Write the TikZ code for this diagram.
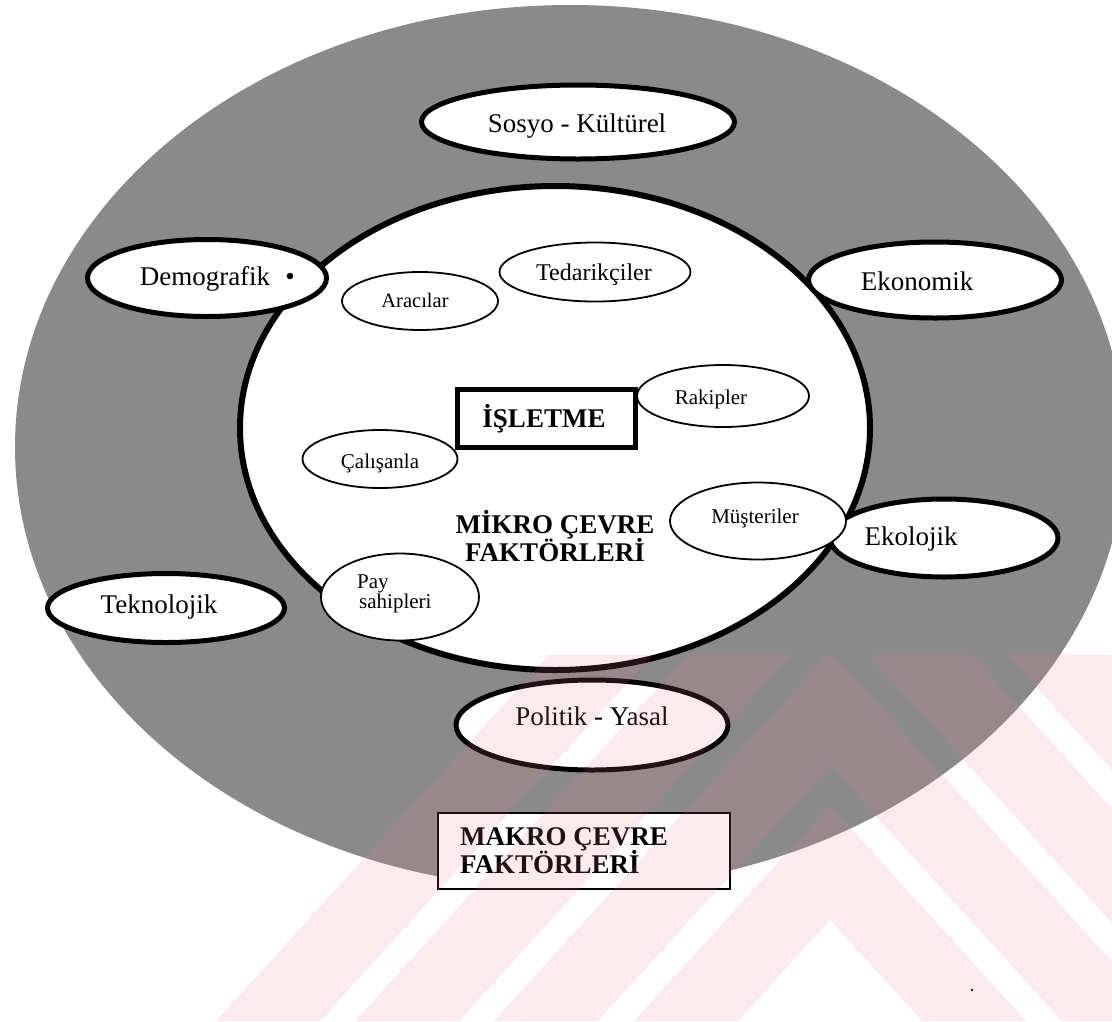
\documentclass[tikz,border=0pt]{standalone}
\usepackage{fontspec}
\setmainfont{Liberation Serif}
\usetikzlibrary{shapes.geometric}
\definecolor{ringgray}{RGB}{138,138,138}
\definecolor{wmpink}{RGB}{232,125,145}

\begin{document}
\begin{tikzpicture}[x=1pt,y=-1pt,
  bigoval/.style={ellipse, draw=black, line width=5pt, fill=white, inner sep=0pt},
  smalloval/.style={ellipse, draw=black, line width=1.8pt, fill=white, inner sep=0pt},
  biglabel/.style={anchor=base, inner sep=0pt, font=\fontsize{27}{32}\selectfont},
  smalllabel/.style={anchor=base, inner sep=0pt, font=\fontsize{21}{25}\selectfont},
  boldlabel/.style={anchor=base, inner sep=0pt, font=\fontsize{27}{32}\selectfont\bfseries},
  leftlabel/.style={anchor=base west, inner sep=0pt},
]
\useasboundingbox (0,0) rectangle (1112,1021);
\fill[white] (0,0) rectangle (1112,1021);

% macro environment ring
\node[ellipse, fill=ringgray, inner sep=0pt, minimum width=1110pt, minimum height=884pt] (macro) at (570,447) {};

% micro environment
\node[ellipse, draw=black, line width=6pt, fill=white, inner sep=0pt,
      minimum width=630pt, minimum height=484pt] (micro) at (555,428) {};

% macro factors
\node[bigoval, minimum width=313pt, minimum height=74pt] (sosyo) at (578,122) {};
\node[bigoval, minimum width=239pt, minimum height=77pt] (demo) at (207,278) {};
\node[bigoval, minimum width=253pt, minimum height=76pt] (ekon) at (935,280) {};
\node[bigoval, minimum width=228pt, minimum height=78pt] (ekol) at (944,538) {};
\node[bigoval, minimum width=237pt, minimum height=69pt] (tekn) at (166,608) {};
\node[bigoval, minimum width=272pt, minimum height=90pt] (polit) at (592,725) {};

\node[biglabel] (sosyoT) at (577,132) {Sosyo - Kültürel};
\node[biglabel] (demoT) at (205,285) {Demografik};
\node[biglabel] (demoDot) at (290,285) {•};
\node[biglabel] (ekonT) at (917,290) {Ekonomik};
\node[biglabel] (ekolT) at (911,545) {Ekolojik};
\node[biglabel] (teknT) at (159,613) {Teknolojik};
\node[biglabel] (politT) at (592,725) {Politik - Yasal};

% micro factors
\node[smalloval, minimum width=156pt, minimum height=58pt] (aracilar) at (420,301) {};
\node[smalloval, minimum width=191pt, minimum height=59pt] (tedarik) at (595,272) {};
\node[smalloval, minimum width=172pt, minimum height=62pt] (rakip) at (723,396) {};
\node[smalloval, minimum width=155pt, minimum height=58pt] (calisan) at (380,459) {};
\node[smalloval, minimum width=176pt, minimum height=77pt] (musteri) at (758,521) {};
\node[smalloval, minimum width=158pt, minimum height=87pt] (pay) at (400,597) {};

\node[smalllabel, font=\fontsize{20.5}{24}\selectfont] (aracilarT) at (415,307) {Aracılar};
\node[smalllabel, font=\fontsize{24}{28}\selectfont] (tedarikT) at (594,280) {Tedarikçiler};
\node[smalllabel] (rakipT) at (711,404) {Rakipler};
\node[smalllabel] (calisanT) at (380,468) {Çalışanla};
\node[smalllabel] (musteriT) at (755,523) {Müşteriler};
\node[smalllabel, leftlabel] (payT) at (357,588) {Pay};
\node[smalllabel, leftlabel] (sahipT) at (359,608) {sahipleri};

% the firm
\node[draw=black, line width=5pt, fill=white, inner sep=0pt,
      minimum width=178pt, minimum height=58pt] (isletme) at (546,418) {};
\node[boldlabel] (isletmeT) at (544,427) {İŞLETME};

\node[boldlabel] (mikroA) at (555,533) {MİKRO ÇEVRE};
\node[boldlabel] (mikroB) at (555,561) {FAKTÖRLERİ};

% macro caption box
\node[draw=black, line width=2.2pt, fill=white, inner sep=0pt,
      minimum width=292pt, minimum height=76pt] (makro) at (584,851) {};
\node[boldlabel, leftlabel] (makroA) at (460,845) {MAKRO ÇEVRE};
\node[boldlabel, leftlabel] (makroB) at (460,873) {FAKTÖRLERİ};

\fill[black] (972,990) circle (1.3);

% faint striped mark over the lower part: nested chevrons about x = 830
\begin{scope}[transparency group, opacity=0.15]
  \clip (0,655) rectangle (1112,1021);
  \foreach \a/\b in {216/320, 355/459, 494/598, 634/738}
    \fill[wmpink] (\a,1021) -- (830,{1021-(830-\a)*1.1}) -- ({1660-\a},1021)
      -- ({1660-\b},1021) -- (830,{1021-(830-\b)*1.1}) -- (\b,1021) -- cycle;
\end{scope}
\end{tikzpicture}
\end{document}
